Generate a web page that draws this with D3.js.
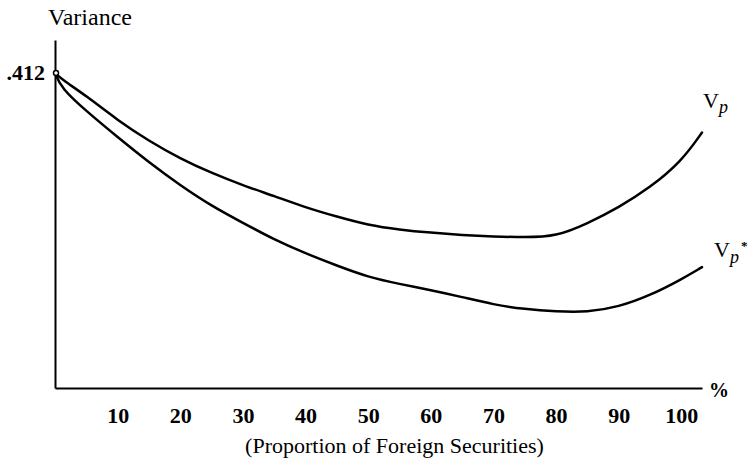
<!DOCTYPE html>
<html>
<head>
<meta charset="utf-8">
<script src="https://cdn.jsdelivr.net/npm/d3@7"></script>
<style>
  body { margin: 0; background: #fff; }
  text { font-family: "Liberation Serif", "DejaVu Serif", serif; fill: #000; }
  .axis path { stroke: #000; stroke-width: 2; }
  .axis text { font-size: 22px; font-weight: bold; }
</style>
</head>
<body>
<div id="chart"></div>
<script>

// proportion of foreign securities (%)
var pct = [0, 1, 5, 10, 15, 20, 25, 30, 35, 40, 45, 50, 55, 60, 65, 70, 75, 80, 85, 90, 95, 100, 103.3];

// Vp
var vp = [0.412, 0.404, 0.382, 0.350, 0.323, 0.300, 0.281, 0.265, 0.251, 0.236, 0.224, 0.213, 0.207, 0.203, 0.200, 0.198, 0.197, 0.198, 0.215, 0.236, 0.262, 0.296, 0.334];

// Vp*
var vpStar = [0.412, 0.392, 0.362, 0.328, 0.295, 0.265, 0.238, 0.216, 0.194, 0.176, 0.160, 0.145, 0.136, 0.128, 0.119, 0.109, 0.103, 0.100, 0.099, 0.106, 0.121, 0.142, 0.158];

var xTicks = [10, 20, 30, 40, 50, 60, 70, 80, 90, 100];
var yTicks = [0.412];

var width = 748, height = 464;
var margin = {top: 40, bottom: 76, left: 55, right: 46};

var svg = d3.select("#chart").append("svg")
  .attr("width", width)
  .attr("height", height);

var xScale = d3.scaleLinear()
  .domain([0, 103.3])
  .range([margin.left, width - margin.right]);

var yScale = d3.scaleLinear()
  .domain([0, 0.455])
  .range([height - margin.bottom, margin.top]);

var xAxis = d3.axisBottom(xScale)
  .tickValues(xTicks)
  .tickSize(0)
  .tickSizeOuter(0)
  .tickPadding(19);

var yAxis = d3.axisLeft(yScale)
  .tickValues(yTicks)
  .tickFormat(function(d){ return d3.format(".3f")(d).replace(/^0/, ""); })
  .tickSize(0)
  .tickSizeOuter(0)
  .tickPadding(10);

svg.append("g")
  .attr("class", "x axis")
  .attr("transform", "translate(0," + yScale(0) + ")")
  .call(xAxis);

svg.append("g")
  .attr("class", "y axis")
  .attr("transform", "translate(" + xScale(0) + ",0)")
  .call(yAxis);

var line = function(values){
  return d3.line()
    .x(function(d, i){ return xScale(pct[i]); })
    .y(function(d){ return yScale(d); })
    .curve(d3.curveBasis)(values);
};

[vp, vpStar].forEach(function(series){
  svg.append("path")
    .attr("fill", "none")
    .attr("stroke", "black")
    .attr("stroke-width", 2.5)
    .attr("stroke-linecap", "round")
    .attr("d", line(series));
});

svg.append("circle")
  .attr("cx", xScale(0) + 1)
  .attr("cy", yScale(yTicks[0]))
  .attr("r", 2.5)
  .attr("fill", "white")
  .attr("stroke", "black")
  .attr("stroke-width", 1.5);

// titles
svg.append("text")
  .attr("x", 48)
  .attr("y", 25)
  .style("font-size", "24px")
  .text("Variance");

svg.append("text")
  .attr("x", (margin.left + width - margin.right) / 2 + 16)
  .attr("y", 453)
  .attr("text-anchor", "middle")
  .style("font-size", "22px")
  .text("(Proportion of Foreign Securities)");

svg.append("text")
  .attr("x", 709)
  .attr("y", 397)
  .style("font-size", "20px")
  .style("font-weight", "bold")
  .text("%");

// series labels
var vpLabel = svg.append("text")
  .attr("x", 703)
  .attr("y", 108)
  .style("font-size", "22px");
vpLabel.append("tspan").text("V");
vpLabel.append("tspan")
  .attr("dy", 5)
  .style("font-style", "italic")
  .style("font-size", "18px")
  .text("p");

var vpStarLabel = svg.append("text")
  .attr("x", 714)
  .attr("y", 257)
  .style("font-size", "22px");
vpStarLabel.append("tspan").text("V");
vpStarLabel.append("tspan")
  .attr("dy", 6)
  .style("font-style", "italic")
  .style("font-size", "18px")
  .text("p");
svg.append("text")
  .attr("x", 741)
  .attr("y", 250)
  .style("font-size", "13px")
  .style("font-weight", "bold")
  .text("*");

</script>
</body>
</html>
